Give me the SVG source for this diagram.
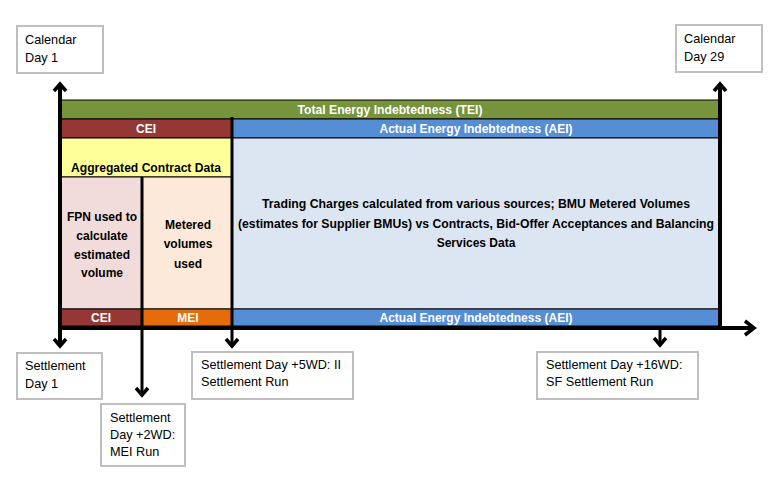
<svg xmlns="http://www.w3.org/2000/svg" width="774" height="479" viewBox="0 0 774 479">
<style>
.box{fill:#fff;stroke:#BFBFBF;stroke-width:2}
.bt{font-family:"Liberation Sans",Arial,sans-serif;font-size:12.7px;fill:#000}
.wt{font-family:"Liberation Sans",Arial,sans-serif;font-size:12px;font-weight:bold;fill:#fff;text-anchor:middle}
.kt{font-family:"Liberation Sans",Arial,sans-serif;font-size:12px;font-weight:bold;fill:#000;text-anchor:middle}
.bar{stroke:#000;stroke-width:1}
.ax{stroke:#000;stroke-width:4;fill:none}
.ln{stroke:#000;stroke-width:3;fill:none}
.hd{stroke:#000;stroke-width:3.5;fill:none;stroke-linejoin:miter}
</style>
<rect width="774" height="479" fill="#fff"/>
<g id="bars">
<rect class="bar" x="60" y="100" width="660" height="19" fill="#77933C"/>
<text class="wt" x="390" y="114" textLength="185" lengthAdjust="spacingAndGlyphs">Total Energy Indebtedness (TEI)</text>
<rect class="bar" x="60" y="119" width="172" height="19" fill="#953735"/>
<text class="wt" x="146" y="133">CEI</text>
<rect class="bar" x="232" y="119" width="488" height="19" fill="#558ED5"/>
<text class="wt" x="476" y="133" textLength="193" lengthAdjust="spacingAndGlyphs">Actual Energy Indebtedness (AEI)</text>
</g>
<g id="aggregated">
<rect class="bar" x="60" y="138" width="172" height="39" fill="#FFFF99"/>
<text class="kt" x="146" y="172" textLength="150" lengthAdjust="spacingAndGlyphs">Aggregated Contract Data</text>
</g>
<g id="fpn">
<rect class="bar" x="60" y="177" width="82" height="132" fill="#F2DCDB"/>
<text class="kt" x="102" y="221">FPN used to</text>
<text class="kt" x="102" y="240">calculate</text>
<text class="kt" x="102" y="259">estimated</text>
<text class="kt" x="102" y="277">volume</text>
</g>
<g id="metered">
<rect class="bar" x="142" y="177" width="90" height="132" fill="#FDE9D9"/>
<text class="kt" x="188" y="229">Metered</text>
<text class="kt" x="188" y="248">volumes</text>
<text class="kt" x="188" y="268">used</text>
</g>
<g id="trading">
<rect class="bar" x="232" y="138" width="488" height="171" fill="#DCE6F2"/>
<text class="kt" x="476" y="208" textLength="428" lengthAdjust="spacingAndGlyphs">Trading Charges calculated from various sources; BMU Metered Volumes</text>
<text class="kt" x="476" y="228" textLength="476" lengthAdjust="spacingAndGlyphs">(estimates for Supplier BMUs) vs Contracts, Bid-Offer Acceptances and Balancing</text>
<text class="kt" x="476" y="247">Services Data</text>
</g>
<g id="bottom-bars">
<rect class="bar" x="60" y="309" width="82" height="17" fill="#953735"/>
<text class="wt" x="101" y="322">CEI</text>
<rect class="bar" x="142" y="309" width="90" height="17" fill="#E46C0A"/>
<text class="wt" x="188" y="322">MEI</text>
<rect class="bar" x="232" y="309" width="488" height="17" fill="#558ED5"/>
<text class="wt" x="476" y="322" textLength="193" lengthAdjust="spacingAndGlyphs">Actual Energy Indebtedness (AEI)</text>
</g>
<g id="connectors">
<line class="ax" x1="60" y1="85" x2="60" y2="346"/>
<polyline class="hd" points="54,91 60,84 66,91"/>
<polyline class="hd" points="54,339 60,346 66,339"/>
<line class="ax" x1="720" y1="85" x2="720" y2="328"/>
<polyline class="hd" points="714,91 720,84 726,91"/>
<line class="ax" x1="58" y1="328" x2="754" y2="328"/>
<polyline class="hd" points="745,321 754,328 745,335"/>
<line class="ln" x1="232" y1="117" x2="232" y2="346"/>
<polyline class="hd" points="226,339 232,346 238,339"/>
<line class="ln" x1="142" y1="177" x2="142" y2="395"/>
<polyline class="hd" points="136,388 142,395 148,388"/>
<line class="ln" x1="660" y1="328" x2="660" y2="345"/>
<polyline class="hd" points="654,338 660,345 666,338"/>
</g>
<g id="cal1">
<rect class="box" x="17" y="26" width="86" height="47"/>
<text class="bt" x="25" y="44">Calendar</text>
<text class="bt" x="25" y="62">Day 1</text>
</g>
<g id="cal29">
<rect class="box" x="676" y="25" width="86" height="47"/>
<text class="bt" x="684" y="43">Calendar</text>
<text class="bt" x="684" y="61">Day 29</text>
</g>
<g id="sd1">
<rect class="box" x="17" y="353" width="85" height="46"/>
<text class="bt" x="25" y="370">Settlement</text>
<text class="bt" x="25" y="388">Day 1</text>
</g>
<g id="sd2">
<rect class="box" x="101" y="404" width="84" height="62"/>
<text class="bt" x="110" y="422">Settlement</text>
<text class="bt" x="110" y="439">Day +2WD:</text>
<text class="bt" x="110" y="456">MEI Run</text>
</g>
<g id="sd5">
<rect class="box" x="192" y="352" width="161" height="47"/>
<text class="bt" x="201" y="369">Settlement Day +5WD: II</text>
<text class="bt" x="201" y="386">Settlement Run</text>
</g>
<g id="sd16">
<rect class="box" x="537" y="352" width="161" height="47"/>
<text class="bt" x="546" y="369">Settlement Day +16WD:</text>
<text class="bt" x="546" y="386">SF Settlement Run</text>
</g>
</svg>
